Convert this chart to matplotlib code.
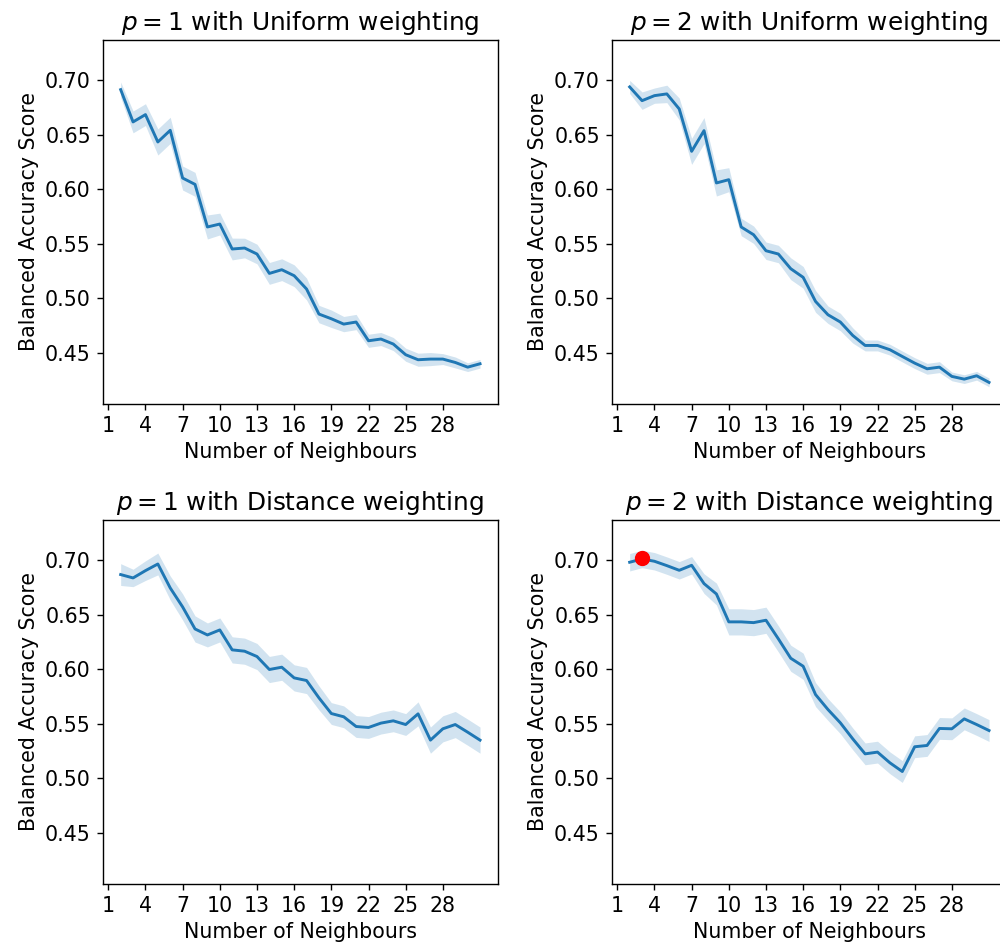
import numpy as np
import matplotlib
matplotlib.use("Agg")
import matplotlib.pyplot as plt

# number of neighbours
k = list(range(2, 32))

# mean balanced accuracy, p=1 / p=2, uniform / distance weighting
uni_p1 = [0.6914, 0.6618, 0.6685, 0.6434, 0.6541, 0.6103, 0.6045, 0.5654, 0.5681, 0.5452,
          0.5461, 0.5406, 0.5228, 0.5262, 0.5207, 0.5085, 0.4855, 0.4812, 0.4763, 0.4782,
          0.4610, 0.4626, 0.4580, 0.4482, 0.4436, 0.4442, 0.4442, 0.4411, 0.4368, 0.4399]
uni_p2 = [0.6939, 0.6813, 0.6859, 0.6875, 0.6737, 0.6348, 0.6538, 0.6058, 0.6088, 0.5654,
          0.5583, 0.5436, 0.5406, 0.5271, 0.5192, 0.4971, 0.4849, 0.4782, 0.4659, 0.4567,
          0.4567, 0.4528, 0.4466, 0.4405, 0.4353, 0.4368, 0.4283, 0.4258, 0.4289, 0.4228]
dist_p1 = [0.6869, 0.6838, 0.6905, 0.6966, 0.6746, 0.6572, 0.6370, 0.6315, 0.6361, 0.6178,
           0.6166, 0.6117, 0.5998, 0.6019, 0.5921, 0.5897, 0.5738, 0.5594, 0.5564, 0.5475,
           0.5466, 0.5506, 0.5527, 0.5493, 0.5591, 0.5350, 0.5454, 0.5493, 0.5423, 0.5350]
dist_p2 = [0.6982, 0.7012, 0.6991, 0.6951, 0.6908, 0.6954, 0.6786, 0.6691, 0.6435, 0.6435,
           0.6428, 0.6450, 0.6279, 0.6101, 0.6028, 0.5768, 0.5631, 0.5509, 0.5362, 0.5224,
           0.5240, 0.5142, 0.5062, 0.5289, 0.5301, 0.5457, 0.5454, 0.5545, 0.5493, 0.5438]

# half width of the confidence band
uni_p1_err = [0.007, 0.010, 0.010, 0.012, 0.012, 0.011, 0.011, 0.011, 0.010, 0.010,
              0.009, 0.009, 0.010, 0.010, 0.010, 0.010, 0.008, 0.008, 0.007, 0.007,
              0.006, 0.006, 0.006, 0.006, 0.006, 0.006, 0.005, 0.005, 0.004, 0.004]
uni_p2_err = [0.006, 0.008, 0.007, 0.008, 0.010, 0.012, 0.012, 0.012, 0.011, 0.008,
              0.008, 0.008, 0.008, 0.010, 0.010, 0.010, 0.008, 0.008, 0.007, 0.005,
              0.005, 0.005, 0.005, 0.005, 0.005, 0.005, 0.004, 0.004, 0.004, 0.004]
dist_p1_err = [0.010, 0.008, 0.009, 0.010, 0.011, 0.012, 0.012, 0.011, 0.011, 0.012,
               0.012, 0.012, 0.012, 0.012, 0.012, 0.012, 0.011, 0.010, 0.010, 0.010,
               0.010, 0.010, 0.010, 0.010, 0.011, 0.012, 0.012, 0.012, 0.012, 0.012]
dist_p2_err = [0.008, 0.008, 0.008, 0.008, 0.008, 0.008, 0.009, 0.010, 0.012, 0.012,
               0.012, 0.012, 0.012, 0.012, 0.012, 0.011, 0.010, 0.010, 0.010, 0.010,
               0.010, 0.010, 0.010, 0.010, 0.010, 0.010, 0.010, 0.010, 0.010, 0.010]

titles = ["$p=1$ with Uniform weighting", "$p=2$ with Uniform weighting",
          "$p=1$ with Distance weighting", "$p=2$ with Distance weighting"]
best_k = 3
best_score = 0.702

plt.rcParams['font.family'] = ['DejaVu Sans']
plt.rcParams['font.size'] = 14.8
plt.rcParams['axes.linewidth'] = 1.0
for a in ('xtick', 'ytick'):
    plt.rcParams[a + '.major.size'] = 4.3
    plt.rcParams[a + '.major.width'] = 1.0
    plt.rcParams[a + '.major.pad'] = 4.3

fig = plt.figure(figsize=(10, 9.49), dpi=100)
positions = [[0.1027, 0.5743, 0.3953, 0.3836], [0.6117, 0.5743, 0.3953, 0.3836],
             [0.1027, 0.0685, 0.3953, 0.3836], [0.6117, 0.0685, 0.3953, 0.3836]]
series = [(uni_p1, uni_p1_err), (uni_p2, uni_p2_err),
          (dist_p1, dist_p1_err), (dist_p2, dist_p2_err)]

for i, (mean, err) in enumerate(series):
    ax = fig.add_axes(positions[i])
    m = np.array(mean)
    e = np.array(err)
    ax.fill_between(k, m - e, m + e, color='#1f77b4', alpha=0.2, linewidth=0)
    ax.plot(k, m, color='#1f77b4', linewidth=2.1)
    if i == 3:
        ax.plot(best_k, best_score, 'o', color='red', markersize=10)
    ax.set_ylim(0.403, 0.737)
    ax.set_xlim(0.55, 32.45)
    ax.set_yticks([0.45, 0.50, 0.55, 0.60, 0.65, 0.70])
    ax.set_xticks(range(1, 31, 3))
    ax.set_title(titles[i], fontsize=17.8, pad=7.4)
    ax.set_xlabel("Number of Neighbours", labelpad=4.3)
    ax.set_ylabel("Balanced Accuracy Score", labelpad=4.3)

fig.savefig("out.png", dpi=100)
